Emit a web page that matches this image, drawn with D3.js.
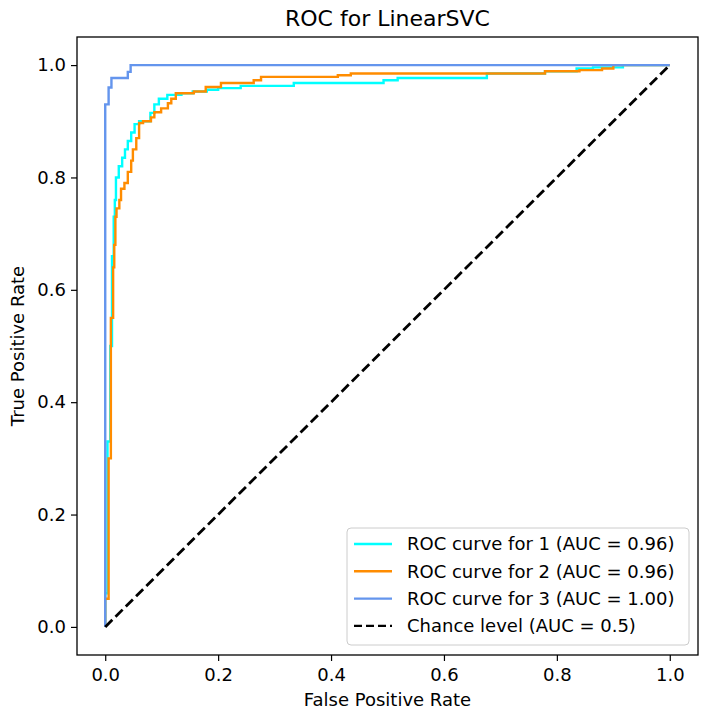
<!DOCTYPE html>
<html>
<head>
<meta charset="utf-8">
<script src="https://cdn.jsdelivr.net/npm/d3@7"></script>
<style>
  body { margin: 0; background: #fff; }
  text { font-family: "DejaVu Sans", sans-serif; fill: #000; }
</style>
</head>
<body>
<div id="chart"></div>
<script>
// ROC curve points
var fpr1 = [0, 0, 0.004, 0.004, 0.009, 0.009, 0.012, 0.012, 0.015, 0.015, 0.017, 0.017, 0.019, 0.019, 0.024, 0.024, 0.030, 0.030, 0.035, 0.035, 0.040, 0.040, 0.046, 0.046, 0.052, 0.052, 0.060, 0.060, 0.080, 0.080, 0.087, 0.087, 0.095, 0.095, 0.110, 0.110, 0.135, 0.135, 0.155, 0.155, 0.180, 0.180, 0.200, 0.200, 0.240, 0.240, 0.334, 0.334, 0.493, 0.493, 0.518, 0.518, 0.676, 0.676, 0.779, 0.779, 0.835, 0.835, 0.864, 0.864, 0.917, 0.917, 1];
var tpr1 = [0, 0.06, 0.06, 0.33, 0.33, 0.50, 0.50, 0.66, 0.66, 0.73, 0.73, 0.76, 0.76, 0.80, 0.80, 0.82, 0.82, 0.835, 0.835, 0.85, 0.85, 0.865, 0.865, 0.88, 0.88, 0.895, 0.895, 0.90, 0.90, 0.915, 0.915, 0.93, 0.93, 0.94, 0.94, 0.947, 0.947, 0.95, 0.95, 0.953, 0.953, 0.956, 0.956, 0.959, 0.959, 0.963, 0.963, 0.968, 0.968, 0.973, 0.973, 0.977, 0.977, 0.985, 0.985, 0.989, 0.989, 0.994, 0.994, 0.996, 0.996, 1, 1];

var fpr2 = [0, 0, 0.006, 0.006, 0.010, 0.010, 0.014, 0.014, 0.016, 0.016, 0.018, 0.018, 0.020, 0.020, 0.025, 0.025, 0.028, 0.028, 0.034, 0.034, 0.040, 0.040, 0.046, 0.046, 0.049, 0.049, 0.055, 0.055, 0.060, 0.060, 0.067, 0.067, 0.081, 0.081, 0.087, 0.087, 0.099, 0.099, 0.111, 0.111, 0.117, 0.117, 0.125, 0.125, 0.157, 0.157, 0.178, 0.178, 0.205, 0.205, 0.263, 0.263, 0.276, 0.276, 0.412, 0.412, 0.435, 0.435, 0.779, 0.779, 0.840, 0.840, 0.880, 0.880, 0.900, 0.900, 1];
var tpr2 = [0, 0.05, 0.05, 0.30, 0.30, 0.55, 0.55, 0.64, 0.64, 0.68, 0.68, 0.73, 0.73, 0.745, 0.745, 0.76, 0.76, 0.78, 0.78, 0.79, 0.79, 0.81, 0.81, 0.83, 0.83, 0.85, 0.85, 0.87, 0.87, 0.897, 0.897, 0.90, 0.90, 0.907, 0.907, 0.916, 0.916, 0.923, 0.923, 0.932, 0.932, 0.94, 0.94, 0.95, 0.95, 0.953, 0.953, 0.961, 0.961, 0.968, 0.968, 0.973, 0.973, 0.979, 0.979, 0.982, 0.982, 0.985, 0.985, 0.989, 0.989, 0.991, 0.991, 0.994, 0.994, 1, 1];

var fpr3 = [0, 0, 0.006, 0.006, 0.011, 0.011, 0.040, 0.040, 0.045, 0.045, 1];
var tpr3 = [0, 0.93, 0.93, 0.96, 0.96, 0.977, 0.977, 0.988, 0.988, 1, 1];

var chanceX = [0, 1];
var chanceY = [0, 1];

var labels = ["ROC curve for 1 (AUC = 0.96)", "ROC curve for 2 (AUC = 0.96)",
              "ROC curve for 3 (AUC = 1.00)", "Chance level (AUC = 0.5)"];
var colors = ["#00ffff", "#ff8c00", "#6495ed", "#000"];
var ticks = [0, 0.2, 0.4, 0.6, 0.8, 1.0];

var width = 707, height = 716;
var margin = { left: 77, right: 9, top: 37, bottom: 61 };

var svg = d3.select("#chart").append("svg")
    .attr("width", width)
    .attr("height", height);

var x = d3.scaleLinear().domain([-0.05, 1.05]).range([margin.left, width - margin.right]);
var y = d3.scaleLinear().domain([-0.05, 1.05]).range([height - margin.bottom, margin.top]);

var line = d3.line()
    .x(function (d) { return x(d[0]); })
    .y(function (d) { return y(d[1]); });

function pts(xs, ys) {
    return xs.map(function (v, i) { return [v, ys[i]]; });
}

var series = [pts(fpr1, tpr1), pts(fpr2, tpr2), pts(fpr3, tpr3)];

var plot = svg.append("g");
plot.selectAll("path.roc")
    .data(series)
    .enter().append("path")
    .attr("class", "roc")
    .attr("d", line)
    .attr("fill", "none")
    .attr("stroke", function (d, i) { return colors[i]; })
    .attr("stroke-width", 2.4);

plot.append("path")
    .attr("d", line(pts(chanceX, chanceY)))
    .attr("fill", "none")
    .attr("stroke", "#000")
    .attr("stroke-width", 2.8)
    .attr("stroke-dasharray", "10,4.5");

// axes
var xAxis = svg.append("g")
    .attr("transform", "translate(0," + (height - margin.bottom) + ")")
    .call(d3.axisBottom(x).tickValues(ticks).tickFormat(d3.format(".1f")).tickSizeOuter(0).tickSize(6).tickPadding(6));
var yAxis = svg.append("g")
    .attr("transform", "translate(" + margin.left + ",0)")
    .call(d3.axisLeft(y).tickValues(ticks).tickFormat(d3.format(".1f")).tickSizeOuter(0).tickSize(6).tickPadding(5));
[xAxis, yAxis].forEach(function (a) {
    a.select(".domain").remove();
    a.selectAll("line").attr("stroke", "#000").attr("stroke-width", 1.2);
    a.selectAll("text").style("font-size", "18px").style("font-family", "DejaVu Sans");
});
xAxis.selectAll("text").attr("dy", "0.8em");

// frame
svg.append("rect")
    .attr("x", x(-0.05)).attr("y", y(1.05))
    .attr("width", x(1.05) - x(-0.05)).attr("height", y(-0.05) - y(1.05))
    .attr("fill", "none").attr("stroke", "#000").attr("stroke-width", 1.3);

// labels
svg.append("text")
    .attr("x", (x(-0.05) + x(1.05)) / 2).attr("y", 26)
    .attr("text-anchor", "middle").style("font-size", "22px")
    .text("ROC for LinearSVC");
svg.append("text")
    .attr("x", (x(-0.05) + x(1.05)) / 2).attr("y", 706)
    .attr("text-anchor", "middle").style("font-size", "18px")
    .text("False Positive Rate");
svg.append("text")
    .attr("transform", "translate(24," + ((y(-0.05) + y(1.05)) / 2) + ") rotate(-90)")
    .attr("text-anchor", "middle").style("font-size", "18px")
    .text("True Positive Rate");

// legend
var lg = svg.append("g").attr("transform", "translate(347,528)");
lg.append("rect")
    .attr("width", 342).attr("height", 117).attr("rx", 4)
    .attr("fill", "#fff").attr("fill-opacity", 0.8)
    .attr("stroke", "#ccc").attr("stroke-width", 1);
var rows = lg.selectAll("g.row")
    .data(labels)
    .enter().append("g")
    .attr("class", "row")
    .attr("transform", function (d, i) { return "translate(0," + (16 + i * 27.3) + ")"; });
rows.append("line")
    .attr("x1", 7).attr("x2", 45)
    .attr("stroke", function (d, i) { return colors[i]; })
    .attr("stroke-width", 2.4)
    .attr("stroke-dasharray", function (d, i) { return i === 3 ? "8,4" : null; });
rows.append("text")
    .attr("x", 60).attr("dy", "0.35em")
    .style("font-size", "18px")
    .text(function (d) { return d; });
</script>
</body>
</html>
